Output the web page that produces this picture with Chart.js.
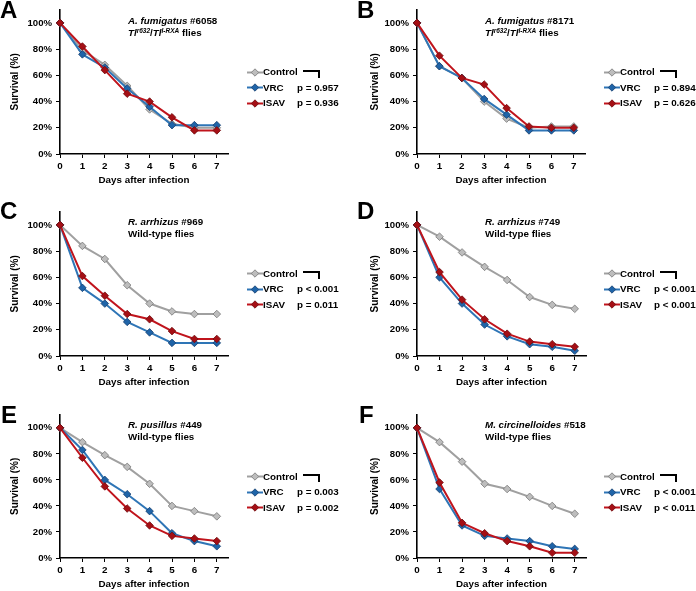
<!DOCTYPE html>
<html><head><meta charset="utf-8">
<script src="https://cdn.jsdelivr.net/npm/chart.js@4"></script>
<style>
body{margin:0;background:#fff;}
#wrap{position:relative;width:696px;height:591px;overflow:hidden;font-family:'Liberation Sans',Arial,sans-serif;font-weight:bold;color:#000;background:#fff;}
canvas{position:absolute;}
.t{position:absolute;white-space:nowrap;font-size:9.8px;line-height:12px;height:12px;}
.t sup{font-size:6.5px;line-height:0;vertical-align:3px;font-style:italic;}
.letter{position:absolute;font-size:24px;line-height:24px;}
.sw{position:absolute;}
.br{position:absolute;border-top:2px solid #000;border-right:2px solid #000;box-sizing:border-box;}
</style></head>
<body><div id="wrap"></div>
<script>
// ---------- data ----------
const days = [0, 1, 2, 3, 4, 5, 6, 7];
const yTickValues = [0, 20, 40, 60, 80, 100];
const seriesNames = ['Control', 'VRC', 'ISAV'];

const ctrlA = [100, 79, 68, 52, 34, 23, 20, 20];
const vrcA  = [100, 76, 66, 50, 36, 22, 22, 22];
const isavA = [100, 82, 64, 46, 40, 28, 18, 18];

const ctrlB = [100, 67, 58, 40, 27, 20, 21, 21];
const vrcB  = [100, 67, 58, 42, 30, 18, 18, 18];
const isavB = [100, 75, 58, 53, 35, 21, 20, 20];

const ctrlC = [100, 84, 74, 54, 40, 34, 32, 32];
const vrcC  = [100, 52, 40, 26, 18, 10, 10, 10];
const isavC = [100, 61, 46, 32, 28, 19, 13, 13];

const ctrlD = [100, 91, 79, 68, 58, 45, 39, 36];
const vrcD  = [100, 60, 40, 24, 15, 9, 7, 4];
const isavD = [100, 64, 43, 28, 17, 11, 9, 7];

const ctrlE = [100, 89, 79, 70, 57, 40, 36, 32];
const vrcE  = [100, 83, 60, 49, 36, 19, 13, 9];
const isavE = [100, 77, 55, 38, 25, 17, 15, 13];

const ctrlF = [100, 89, 74, 57, 53, 47, 40, 34];
const vrcF  = [100, 53, 25, 17, 15, 13, 9, 7];
const isavF = [100, 58, 27, 19, 13, 9, 4, 4];

const panelLetters = ['A', 'B', 'C', 'D', 'E', 'F'];
const strainNames = ['A. fumigatus', 'A. fumigatus', 'R. arrhizus', 'R. arrhizus', 'R. pusillus', 'M. circinelloides'];
const strainIds = ['#6058', '#8171', '#969', '#749', '#449', '#518'];
const hostLines = ['toll', 'toll', 'Wild-type flies', 'Wild-type flies', 'Wild-type flies', 'Wild-type flies'];
const pVrc  = ['p = 0.957', 'p = 0.894', 'p < 0.001', 'p < 0.001', 'p = 0.003', 'p < 0.001'];
const pIsav = ['p = 0.936', 'p = 0.626', 'p = 0.011', 'p < 0.001', 'p = 0.002', 'p < 0.011'];
const xTitle = 'Days after infection';
const yTitle = 'Survival (%)';

const allSeries = [
  [ctrlA, vrcA, isavA], [ctrlB, vrcB, isavB], [ctrlC, vrcC, isavC],
  [ctrlD, vrcD, isavD], [ctrlE, vrcE, isavE], [ctrlF, vrcF, isavF]
];

// ---------- layout / style ----------
const layout = [
  {x0: 60,  x7: 217,   y100: 21.7,  y0: 154.3, yt: 15, lx: 0,   ly: 2},
  {x0: 417, x7: 574,   y100: 21.7,  y0: 154.3, yt: 18, lx: 357, ly: 2},
  {x0: 60,  x7: 217,   y100: 223.3, y0: 356,   yt: 15, lx: 0,   ly: 203},
  {x0: 417, x7: 574.5, y100: 223.3, y0: 356,   yt: 18, lx: 357, ly: 203},
  {x0: 60,  x7: 217,   y100: 426,   y0: 558.3, yt: 15, lx: 1,   ly: 407},
  {x0: 417, x7: 575,   y100: 426,   y0: 558.3, yt: 18, lx: 359, ly: 407}
];
const styles = [
  {line: '#A0A0A0', fill: '#BDBDBD', border: '#777777'},
  {line: '#2E75B6', fill: '#1F64A8', border: '#163F6E'},
  {line: '#C0141C', fill: '#A50F15', border: '#6E0A0D'}
];
const FONT = "'Liberation Sans', Arial, sans-serif";

const wrap = document.getElementById('wrap');
function el(tag, cls, css, html) {
  const e = document.createElement(tag);
  if (cls) e.className = cls;
  Object.assign(e.style, css);
  if (html !== undefined) e.innerHTML = html;
  wrap.appendChild(e);
  return e;
}
function swatch(st) {
  return '<svg width="16" height="9" viewBox="0 0 16 9"><line x1="0" y1="4.5" x2="16" y2="4.5" stroke="' + st.line +
    '" stroke-width="2"/><polygon points="8,0.8 11.7,4.5 8,8.2 4.3,4.5" fill="' + st.fill + '" stroke="' + st.border + '" stroke-width="0.8"/></svg>';
}

layout.forEach((p, i) => {
  const dayPx = (p.x7 - p.x0) / 7, pctPx = (p.y0 - p.y100) / 100;
  const right = p.x0 + 7.5 * dayPx, top = p.y0 - 110 * pctPx;
  const cx = Math.round(p.x0 - 60), cy = Math.round(top - 3);
  const W = Math.round(right + 8 - cx), H = Math.round(p.y0 + 41 - cy);
  const c = el('canvas', '', {left: cx + 'px', top: cy + 'px', width: W + 'px', height: H + 'px'});
  c.width = W; c.height = H;
  const ser = allSeries[i];
  new Chart(c, {
    type: 'line',
    data: {
      datasets: ser.map((vals, k) => ({
        label: seriesNames[k],
        data: days.map((d, j) => ({x: d, y: vals[j]})),
        borderColor: styles[k].line,
        backgroundColor: styles[k].fill,
        pointBackgroundColor: styles[k].fill,
        pointBorderColor: styles[k].border,
        pointBorderWidth: 0.8,
        pointStyle: 'rectRot',
        pointRadius: 3.8,
        borderWidth: 2,
        tension: 0,
        clip: false,
        order: 3 - k
      }))
    },
    options: {
      responsive: false, animation: false, devicePixelRatio: 1,
      layout: {padding: {top: 3, right: 8, left: 0, bottom: 0}},
      plugins: {legend: {display: false}, tooltip: {enabled: false}},
      scales: {
        x: {
          type: 'linear', min: 0, max: 7.5,
          afterBuildTicks: s => { s.ticks = days.map(d => ({value: d})); },
          afterFit: s => { s.height = 41; s.paddingLeft = 0; s.paddingRight = 0; },
          grid: {drawOnChartArea: false, drawTicks: true, tickLength: 4, color: '#000', lineWidth: 1},
          border: {color: '#000', width: 1.6},
          ticks: {color: '#000', padding: 2, maxRotation: 0, font: {family: FONT, size: 9.8, weight: 'bold'}},
          title: {display: true, text: xTitle, color: '#000', padding: {top: 0, bottom: 8.4},
                  font: {family: FONT, size: 9.8, weight: 'bold'}}
        },
        y: {
          type: 'linear', min: 0, max: 110,
          afterBuildTicks: s => { s.ticks = yTickValues.map(v => ({value: v})); },
          afterFit: s => { s.width = p.x0 - cx; s.paddingTop = 0; s.paddingBottom = 0; },
          grid: {drawOnChartArea: false, drawTicks: true, tickLength: 4, color: '#000', lineWidth: 1},
          border: {color: '#000', width: 1.6},
          ticks: {color: '#000', padding: 4, font: {family: FONT, size: 9.6, weight: 'bold'},
                  callback: v => v + '%'},
          title: {display: true, text: yTitle, color: '#000', padding: {top: p.yt - 6, bottom: 0},
                  font: {family: FONT, size: 10, weight: 'bold'}}
        }
      }
    }
  });

  // panel letter
  el('div', 'letter', {left: p.lx + 'px', top: (p.ly - 4) + 'px'}, panelLetters[i]);
  // annotation
  el('div', 't', {left: (p.x0 + 68) + 'px', top: (p.y100 - 7) + 'px'},
     '<i>' + strainNames[i] + '</i> ' + strainIds[i]);
  const host = hostLines[i] === 'toll'
    ? '<i>Tl</i><sup>r632</sup>/<i>Tl</i><sup>I-RXA</sup> flies'
    : hostLines[i];
  el('div', 't', {left: (p.x0 + 68) + 'px', top: (p.y100 + 5) + 'px'}, host);
  // legend
  const rows = [p.y100 + 50.5, p.y100 + 66, p.y100 + 81.5];
  seriesNames.forEach((nm, k) => {
    el('div', 'sw', {left: (p.x0 + 187) + 'px', top: (rows[k] - 4.5) + 'px', width: '16px', height: '9px', lineHeight: '0'}, swatch(styles[k]));
    el('div', 't', {left: (p.x0 + 203) + 'px', top: (rows[k] - 6) + 'px'}, nm);
  });
  el('div', 'br', {left: (p.x0 + 243) + 'px', top: (p.y100 + 48) + 'px', width: '17px', height: '8px'});
  el('div', 't', {left: (p.x0 + 237) + 'px', top: (rows[1] - 6) + 'px'}, pVrc[i]);
  el('div', 't', {left: (p.x0 + 237) + 'px', top: (rows[2] - 6) + 'px'}, pIsav[i]);
});
</script>
</body></html>
